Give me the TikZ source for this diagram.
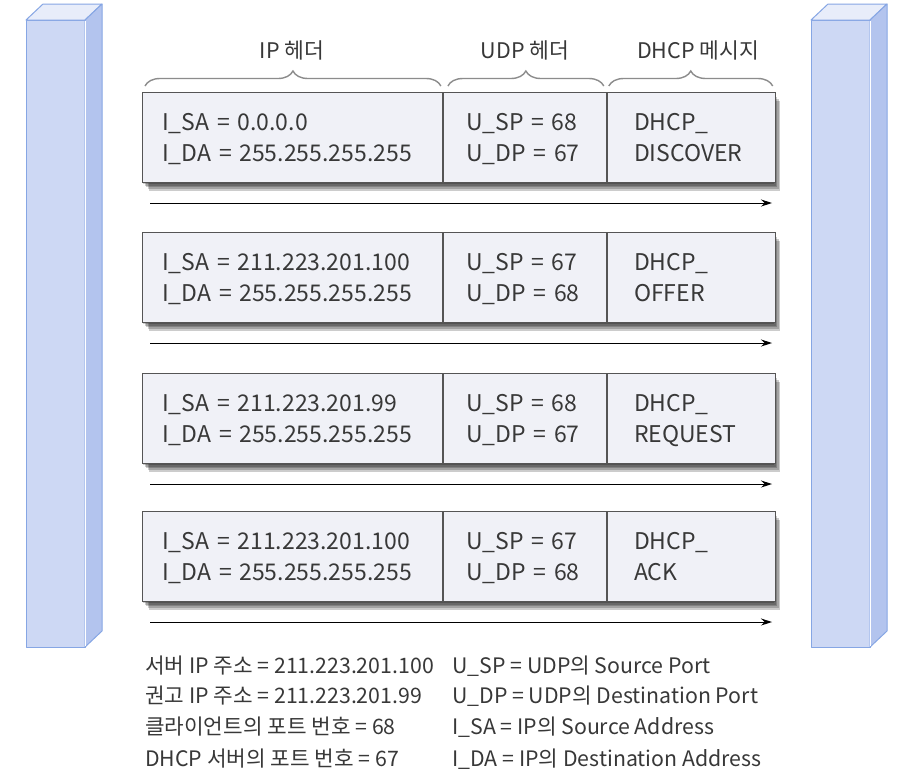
\documentclass[tikz,border=0pt]{standalone}
\usepackage{fontspec}
\setmainfont{Noto Sans CJK KR}
\usetikzlibrary{arrows.meta, positioning, decorations.pathreplacing, calc}
\definecolor{pillarFront}{HTML}{CDD8F4}
\definecolor{pillarSide}{HTML}{B3C4EE}
\definecolor{pillarTop}{HTML}{E8EDFA}
\definecolor{pillarLine}{HTML}{86A6E4}
\definecolor{cellFill}{HTML}{F0F1F7}
\definecolor{cellLine}{HTML}{555555}
\definecolor{textDark}{HTML}{383838}
\definecolor{braceGray}{HTML}{8C8C8C}

\begin{document}
\begin{tikzpicture}[
    x=1pt, y=-1pt,
    cell/.style={rectangle, draw=cellLine, fill=cellFill, line width=0.9pt,
                 minimum height=90pt, anchor=north west, inner sep=0pt},
    celltext/.style={anchor=base west, align=left, inner sep=0pt, text width=130pt,
                 font=\fontsize{23}{31}\selectfont\color{textDark}},
    flow/.style={-{Stealth[length=11pt, width=7pt]}, line width=1pt},
    hdr/.style={font=\fontsize{21.5}{24}\selectfont\color{textDark}},
    hbrace/.style={decorate, decoration={brace, amplitude=15pt}, draw=braceGray, line width=1.4pt},
    legend/.style={anchor=west, inner sep=0pt, font=\fontsize{21.3}{24}\selectfont\color{textDark}},
    pillar/.style={draw=pillarLine, line width=1pt, line join=round},
  ]
  \useasboundingbox (0,0) rectangle (909,777);
  \fill[white] (0,0) rectangle (909,777);

  % client and server
  \foreach \px in {26,811} {
    \filldraw[pillar, fill=pillarFront] (\px,20) rectangle (\px+59,647);
    \filldraw[pillar, fill=pillarTop] (\px,20) -- (\px+17,4) -- (\px+76,4) -- (\px+59,20) -- cycle;
    \filldraw[pillar, fill=pillarSide] (\px+59,20) -- (\px+76,4) -- (\px+76,631) -- (\px+59,647) -- cycle;
    \draw[white, line width=1pt] (\px+59,21) -- (\px+59,646);
  }

  % messages
  \foreach \y/\n/\sa/\sp/\dp/\msg in {92/1/0.0.0.0/68/67/DISCOVER,
      232/2/211.223.201.100/67/68/OFFER, 373/3/211.223.201.99/68/67/REQUEST,
      511/4/211.223.201.100/67/68/ACK} {
    \foreach \k in {1,...,5}
      \fill[black, opacity=0.2] (142+\k*1.4,\y+\k*1.8) rectangle (773+\k*1.4,\y+90+\k*1.8);
    \node[cell, minimum width=300pt] (ip\n) at (142,\y) {};
    \node[cell, minimum width=163pt] (udp\n) at (ip\n.north east) {};
    \node[cell, minimum width=168pt] (msg\n) at (udp\n.north east) {};
    \node[celltext, text width=260pt] (ipT\n) at ([shift={(20,38)}]ip\n.north west)
      {I\_SA = \sa\\I\_DA = 255.255.255.255};
    \node[celltext] (udpT\n) at ([shift={(23,38)}]udp\n.north west)
      {U\_SP = \sp\\U\_DP = \dp};
    \node[celltext] (msgT\n) at ([shift={(27,38)}]msg\n.north west)
      {DHCP\_\\\msg};
    \coordinate (s\n) at (150,\y+111);
    \coordinate (e\n) at (772,\y+111);
    \draw[flow] (s\n) -- (e\n);
  }

  % headers
  \draw[hbrace] ([shift={(3,-6)}]ip1.north west) -- ([shift={(-2,-6)}]ip1.north east);
  \draw[hbrace] ([shift={(5,-6)}]udp1.north west) -- ([shift={(-3,-6)}]udp1.north east);
  \draw[hbrace] ([shift={(2,-6)}]msg1.north west) -- ([shift={(-3,-6)}]msg1.north east);
  \node[hdr] (ipH) at (292,50) {IP 헤더};
  \node[hdr] (udpH) at (525,50) {UDP 헤더};
  \node[hdr] (msgH) at (698,50) {DHCP 메시지};

  % legend
  \foreach \y/\n/\t in {666/1/서버 IP 주소 = 211.223.201.100, 696/2/권고 IP 주소 = 211.223.201.99,
      727/3/클라이언트의 포트 번호 = 68, 759/4/DHCP 서버의 포트 번호 = 67}
    \node[legend] (keyL\n) at (145,\y) {\t};
  \foreach \y/\n/\t in {666/1/U\_SP = UDP의 Source Port, 696/2/U\_DP = UDP의 Destination Port,
      727/3/I\_SA = IP의 Source Address, 759/4/I\_DA = IP의 Destination Address}
    \node[legend] (keyR\n) at (452,\y) {\t};
\end{tikzpicture}
\end{document}
